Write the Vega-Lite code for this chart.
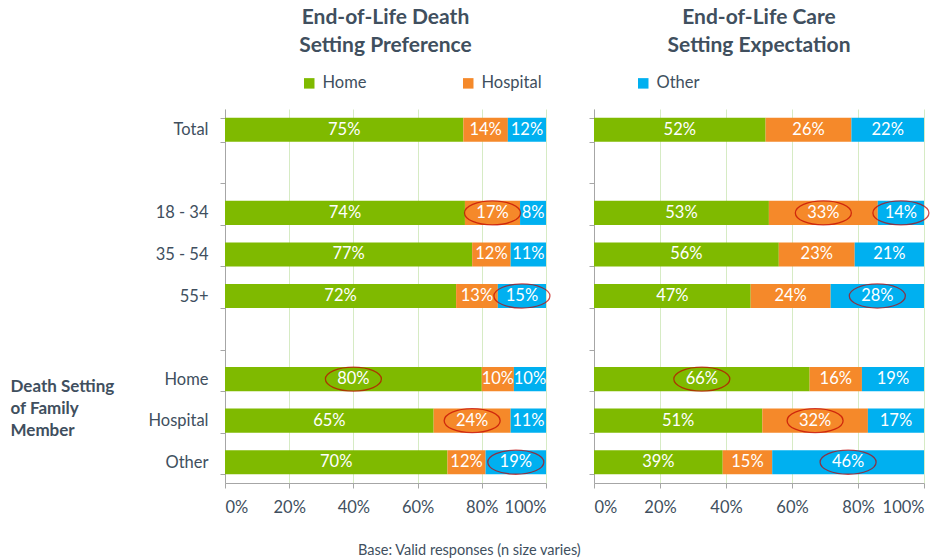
{
  "$schema": "https://vega.github.io/schema/vega-lite/v6.json",
  "padding": {"left": 10, "top": 7, "right": 4, "bottom": 4},
  "background": "white",
  "config": {
    "font": "Lato",
    "view": {"stroke": null},
    "axis": {"labelColor": "#404f5e", "labelFontSize": 16.5, "labelFont": "Lato", "domainColor": "#a6a6a6", "tickColor": "#a6a6a6", "gridColor": "#d6ebc4", "tickSize": 5}
  },
  "title": {"text": "Base: Valid responses (n size varies)", "orient": "bottom", "anchor": "start", "dx": 348, "fontSize": 14.5, "fontWeight": "normal", "color": "#404f5e", "offset": 28},
  "data": {"values": [
    {"panel": "pref", "group": "Total", "cat": "Home", "value": 0.75, "circled": false},
    {"panel": "pref", "group": "Total", "cat": "Hospital", "value": 0.14, "circled": false},
    {"panel": "pref", "group": "Total", "cat": "Other", "value": 0.12, "circled": false},
    {"panel": "pref", "group": "18 - 34", "cat": "Home", "value": 0.74, "circled": false},
    {"panel": "pref", "group": "18 - 34", "cat": "Hospital", "value": 0.17, "circled": true},
    {"panel": "pref", "group": "18 - 34", "cat": "Other", "value": 0.08, "circled": false},
    {"panel": "pref", "group": "35 - 54", "cat": "Home", "value": 0.77, "circled": false},
    {"panel": "pref", "group": "35 - 54", "cat": "Hospital", "value": 0.12, "circled": false},
    {"panel": "pref", "group": "35 - 54", "cat": "Other", "value": 0.11, "circled": false},
    {"panel": "pref", "group": "55+", "cat": "Home", "value": 0.72, "circled": false},
    {"panel": "pref", "group": "55+", "cat": "Hospital", "value": 0.13, "circled": false},
    {"panel": "pref", "group": "55+", "cat": "Other", "value": 0.15, "circled": true},
    {"panel": "pref", "group": "Home", "cat": "Home", "value": 0.80, "circled": true},
    {"panel": "pref", "group": "Home", "cat": "Hospital", "value": 0.10, "circled": false},
    {"panel": "pref", "group": "Home", "cat": "Other", "value": 0.10, "circled": false},
    {"panel": "pref", "group": "Hospital", "cat": "Home", "value": 0.65, "circled": false},
    {"panel": "pref", "group": "Hospital", "cat": "Hospital", "value": 0.24, "circled": true},
    {"panel": "pref", "group": "Hospital", "cat": "Other", "value": 0.11, "circled": false},
    {"panel": "pref", "group": "Other", "cat": "Home", "value": 0.70, "circled": false},
    {"panel": "pref", "group": "Other", "cat": "Hospital", "value": 0.12, "circled": false},
    {"panel": "pref", "group": "Other", "cat": "Other", "value": 0.19, "circled": true},
    {"panel": "exp", "group": "Total", "cat": "Home", "value": 0.52, "circled": false},
    {"panel": "exp", "group": "Total", "cat": "Hospital", "value": 0.26, "circled": false},
    {"panel": "exp", "group": "Total", "cat": "Other", "value": 0.22, "circled": false},
    {"panel": "exp", "group": "18 - 34", "cat": "Home", "value": 0.53, "circled": false},
    {"panel": "exp", "group": "18 - 34", "cat": "Hospital", "value": 0.33, "circled": true},
    {"panel": "exp", "group": "18 - 34", "cat": "Other", "value": 0.14, "circled": true},
    {"panel": "exp", "group": "35 - 54", "cat": "Home", "value": 0.56, "circled": false},
    {"panel": "exp", "group": "35 - 54", "cat": "Hospital", "value": 0.23, "circled": false},
    {"panel": "exp", "group": "35 - 54", "cat": "Other", "value": 0.21, "circled": false},
    {"panel": "exp", "group": "55+", "cat": "Home", "value": 0.47, "circled": false},
    {"panel": "exp", "group": "55+", "cat": "Hospital", "value": 0.24, "circled": false},
    {"panel": "exp", "group": "55+", "cat": "Other", "value": 0.28, "circled": true},
    {"panel": "exp", "group": "Home", "cat": "Home", "value": 0.66, "circled": true},
    {"panel": "exp", "group": "Home", "cat": "Hospital", "value": 0.16, "circled": false},
    {"panel": "exp", "group": "Home", "cat": "Other", "value": 0.19, "circled": false},
    {"panel": "exp", "group": "Hospital", "cat": "Home", "value": 0.51, "circled": false},
    {"panel": "exp", "group": "Hospital", "cat": "Hospital", "value": 0.32, "circled": true},
    {"panel": "exp", "group": "Hospital", "cat": "Other", "value": 0.17, "circled": false},
    {"panel": "exp", "group": "Other", "cat": "Home", "value": 0.39, "circled": false},
    {"panel": "exp", "group": "Other", "cat": "Hospital", "value": 0.15, "circled": false},
    {"panel": "exp", "group": "Other", "cat": "Other", "value": 0.46, "circled": true}
  ]},
  "spacing": 48,
  "bounds": "flush",
  "hconcat": [
    {
      "width": 321,
      "height": 374,
      "title": {"text": ["End-of-Life Death", "Setting Preference"], "fontSize": 21, "fontWeight": "bold", "color": "#404f5e", "lineHeight": 28, "offset": 45, "anchor": "middle"},
      "transform": [{"filter": "datum.panel === 'pref'"}],
      "encoding": {
        "y": {
          "field": "group", "type": "nominal",
          "scale": {"domain": ["Total", "gap1", "18 - 34", "35 - 54", "55+", "gap2", "Home", "Hospital", "Other"], "paddingInner": 0.42, "paddingOuter": 0.21},
          "axis": {
            "labelExpr": "indexof(datum.label, 'gap') === 0 ? '' : datum.label",
            "tickBand": "extent", "labelPadding": 12, "grid": false,
            "title": ["Death Setting", "of Family", "Member"],
            "titleAngle": 0, "titleAlign": "left", "titleBaseline": "top", "titleX": -215, "titleY": 269,
            "titleFontSize": 17, "titleFontWeight": "bold", "titleLineHeight": 22, "titleColor": "#404f5e"
          }
        }
      },
      "layer": [
        {
          "mark": {"type": "bar"},
          "encoding": {
            "x": {"field": "value", "type": "quantitative", "stack": "normalize", "axis": {"format": ".0%", "values": [0, 0.2, 0.4, 0.6, 0.8, 1], "grid": true, "title": null, "labelPadding": 11}},
            "color": {"field": "cat", "type": "nominal", "scale": {"domain": ["Home", "Hospital", "Other"], "range": ["#7fba00", "#f5892a", "#00b0f0"]},
              "legend": {"orient": "none", "legendX": 76, "legendY": -34, "direction": "horizontal", "title": null, "symbolType": "square", "symbolSize": 110, "symbolStrokeWidth": 0, "labelFontSize": 16.5, "labelColor": "#404f5e", "columnPadding": 93, "labelOffset": 5, "padding": 0}}
          }
        },
        {
          "mark": {"type": "text", "color": "white", "fontSize": 16.5},
          "encoding": {
            "x": {"field": "value", "type": "quantitative", "stack": "normalize", "bandPosition": 0.5},
            "detail": {"field": "cat"},
            "order": {"field": "cat", "type": "ordinal", "sort": "ascending"},
            "text": {"field": "value", "type": "quantitative", "format": ".0%"}
          }
        },
        {
          "mark": {"type": "point", "shape": "M -1 0 A 1 0.43 0 1 1 1 0 A 1 0.43 0 1 1 -1 0 Z", "size": 3136, "filled": false, "stroke": "#c00000", "strokeWidth": 1.3},
          "encoding": {
            "x": {"field": "value", "type": "quantitative", "stack": "normalize", "bandPosition": 0.5},
            "detail": {"field": "cat"},
            "order": {"field": "cat", "type": "ordinal", "sort": "ascending"},
            "strokeOpacity": {"condition": {"test": "datum.circled", "value": 1}, "value": 0}
          }
        }
      ]
    },
    {
      "width": 330,
      "height": 374,
      "title": {"text": ["End-of-Life Care", "Setting Expectation"], "fontSize": 21, "fontWeight": "bold", "color": "#404f5e", "lineHeight": 28, "offset": 53, "anchor": "middle"},
      "transform": [{"filter": "datum.panel === 'exp'"}],
      "encoding": {
        "y": {
          "field": "group", "type": "nominal",
          "scale": {"domain": ["Total", "gap1", "18 - 34", "35 - 54", "55+", "gap2", "Home", "Hospital", "Other"], "paddingInner": 0.42, "paddingOuter": 0.21},
          "axis": {"labels": false, "tickBand": "extent", "grid": false, "title": null}
        }
      },
      "layer": [
        {
          "mark": {"type": "bar"},
          "encoding": {
            "x": {"field": "value", "type": "quantitative", "stack": "normalize", "axis": {"format": ".0%", "values": [0, 0.2, 0.4, 0.6, 0.8, 1], "grid": true, "title": null, "labelPadding": 11}},
            "color": {"field": "cat", "type": "nominal", "scale": {"domain": ["Home", "Hospital", "Other"], "range": ["#7fba00", "#f5892a", "#00b0f0"]},
              "legend": {"orient": "none", "legendX": 76, "legendY": -34, "direction": "horizontal", "title": null, "symbolType": "square", "symbolSize": 110, "symbolStrokeWidth": 0, "labelFontSize": 16.5, "labelColor": "#404f5e", "columnPadding": 93, "labelOffset": 5, "padding": 0}}
          }
        },
        {
          "mark": {"type": "text", "color": "white", "fontSize": 16.5},
          "encoding": {
            "x": {"field": "value", "type": "quantitative", "stack": "normalize", "bandPosition": 0.5},
            "detail": {"field": "cat"},
            "order": {"field": "cat", "type": "ordinal", "sort": "ascending"},
            "text": {"field": "value", "type": "quantitative", "format": ".0%"}
          }
        },
        {
          "mark": {"type": "point", "shape": "M -1 0 A 1 0.43 0 1 1 1 0 A 1 0.43 0 1 1 -1 0 Z", "size": 3136, "filled": false, "stroke": "#c00000", "strokeWidth": 1.3},
          "encoding": {
            "x": {"field": "value", "type": "quantitative", "stack": "normalize", "bandPosition": 0.5},
            "detail": {"field": "cat"},
            "order": {"field": "cat", "type": "ordinal", "sort": "ascending"},
            "strokeOpacity": {"condition": {"test": "datum.circled", "value": 1}, "value": 0}
          }
        }
      ]
    }
  ]
}
